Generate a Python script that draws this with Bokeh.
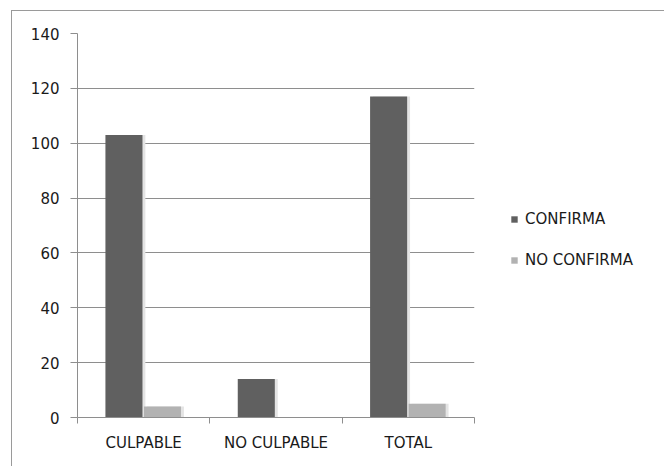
from bokeh.plotting import figure
from bokeh.models import (ColumnDataSource, FixedTicker, Legend, LegendItem,
                          InlineStyleSheet)
from bokeh.transform import dodge
from bokeh.embed import file_html
from bokeh.resources import INLINE

# Data
categories = ["CULPABLE", "NO CULPABLE", "TOTAL"]
confirma = [103, 14, 117]
no_confirma = [4, 0, 5]
series_names = ["CONFIRMA", "NO CONFIRMA"]
y_ticks = [0, 20, 40, 60, 80, 100, 120, 140]

FONT = "DejaVu Sans"
DARK = "#606060"
LIGHT = "#b2b2b2"
GRID = "#8e8e8e"
TEXT = "#1a1a1a"

xs = [i + 0.5 for i in range(len(categories))]
source = ColumnDataSource(dict(x=xs, confirma=confirma, no_confirma=no_confirma))

border_css = InlineStyleSheet(css=":host { border-left: 1px solid #9a9a9a; border-top: 1px solid #9a9a9a; }")

p = figure(frame_width=397, frame_height=384, x_range=(0, len(categories)), y_range=(0, 140),
           output_backend="svg", toolbar_location=None,
           min_border_left=65, min_border_right=190, min_border_top=22, min_border_bottom=49,
           outline_line_color=None, stylesheets=[border_css])
p.margin = (10, 0, 0, 11)

# faint drop shadows to the right of each bar
p.vbar(x=dodge("x", -0.149 + 0.022, range=p.x_range), top="confirma", width=0.28,
       source=source, fill_color="#e4e4e4", line_color=None)
p.vbar(x=dodge("x", 0.142 + 0.022, range=p.x_range), top="no_confirma", width=0.28,
       source=source, fill_color="#e4e4e4", line_color=None)

r1 = p.vbar(x=dodge("x", -0.149, range=p.x_range), top="confirma", width=0.28,
            source=source, fill_color=DARK, line_color=None)
r2 = p.vbar(x=dodge("x", 0.142, range=p.x_range), top="no_confirma", width=0.28,
            source=source, fill_color=LIGHT, line_color=None)

# y axis
p.yaxis.ticker = FixedTicker(ticks=y_ticks)
p.yaxis.axis_line_color = GRID
p.yaxis.major_tick_line_color = GRID
p.yaxis.major_tick_out = 7
p.yaxis.major_tick_in = 0
p.yaxis.minor_tick_line_color = None
p.yaxis.major_label_standoff = 11
p.yaxis.major_label_text_font = FONT
p.yaxis.major_label_text_font_size = "15px"
p.yaxis.major_label_text_color = TEXT

# x axis: labels at category centres, ticks at category boundaries
p.xaxis.ticker = FixedTicker(ticks=xs, minor_ticks=list(range(len(categories) + 1)))
p.xaxis.major_label_overrides = {x: c for x, c in zip(xs, categories)}
p.xaxis.major_tick_line_color = None
p.xaxis.major_tick_out = 0
p.xaxis.major_tick_in = 0
p.xaxis.minor_tick_line_color = GRID
p.xaxis.minor_tick_out = 6
p.xaxis.minor_tick_in = 0
p.xaxis.axis_line_color = GRID
p.xaxis.major_label_standoff = 10
p.xaxis.major_label_text_font = FONT
p.xaxis.major_label_text_font_size = "15px"
p.xaxis.major_label_text_color = TEXT

p.xgrid.grid_line_color = None
p.ygrid.ticker = FixedTicker(ticks=y_ticks)
p.ygrid.grid_line_color = GRID
p.ygrid.grid_line_width = 1

legend = Legend(items=[LegendItem(label=series_names[0], renderers=[r1]),
                       LegendItem(label=series_names[1], renderers=[r2])],
                location=(36, 148), orientation="vertical",
                glyph_width=8, glyph_height=8, label_height=16,
                spacing=23, padding=0, margin=0, label_standoff=7,
                border_line_color=None, background_fill_alpha=0,
                label_text_font=FONT, label_text_font_size="15px",
                label_text_color=TEXT)
p.add_layout(legend, "right")

open("out.html", "w").write(file_html(p, INLINE))
